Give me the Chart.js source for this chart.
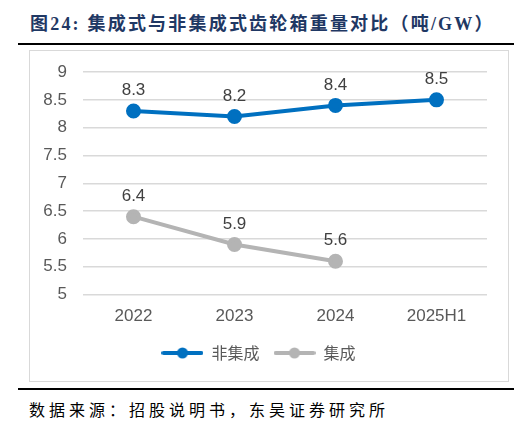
<!DOCTYPE html>
<html>
<head>
<meta charset="utf-8">
<script src="https://cdn.jsdelivr.net/npm/chart.js@4"></script>
<style>
  body { margin:0; width:520px; height:430px; background:#fff; position:relative; overflow:hidden; }
  #title { position:absolute; left:30px; top:9px; font:bold 18px "Liberation Serif","Noto Sans CJK SC",serif; color:#1f3864; letter-spacing:2.2px; white-space:nowrap; }
  .rule { position:absolute; left:18px; width:496px; height:2px; background:#000; }
  #box { position:absolute; left:29px; top:50px; width:478px; height:330px; border:1px solid #d9d9d9; }
  #src { position:absolute; left:29px; top:397px; font:16px "Noto Sans CJK SC",serif; color:#000; letter-spacing:4px; white-space:nowrap; }
</style>
</head>
<body>
<div id="title">图24:&nbsp;集成式与非集成式齿轮箱重量对比（吨/GW）</div>
<div class="rule" style="top:43px"></div>
<div id="box"><canvas id="c" width="478" height="330"></canvas></div>
<div class="rule" style="top:388px"></div>
<div id="src">数据来源：招股说明书，东吴证券研究所</div>
<script>
const categories = ["2022", "2023", "2024", "2025H1"];
const nonIntegrated = [8.3, 8.2, 8.4, 8.5];
const integrated = [6.4, 5.9, 5.6, null];
const seriesNames = ["非集成", "集成"];
const yTicks = [5, 5.5, 6, 6.5, 7, 7.5, 8, 8.5, 9];

// legend swatch: line with dot in the middle
function swatch(color) {
  const cv = document.createElement("canvas");
  cv.width = 42; cv.height = 12;
  const g = cv.getContext("2d");
  g.strokeStyle = color; g.lineWidth = 4; g.lineCap = "round";
  g.beginPath(); g.moveTo(2, 6); g.lineTo(40, 6); g.stroke();
  g.fillStyle = color; g.beginPath(); g.arc(21, 6, 5.5, 0, Math.PI * 2); g.fill();
  return cv;
}

const valueLabels = {
  id: "valueLabels",
  afterDatasetsDraw(chart) {
    const ctx = chart.ctx;
    ctx.save();
    ctx.font = "17px 'Liberation Sans', Arial, sans-serif";
    ctx.fillStyle = "#404040";
    ctx.textAlign = "center";
    ctx.textBaseline = "bottom";
    chart.data.datasets.forEach((ds, i) => {
      chart.getDatasetMeta(i).data.forEach((pt, j) => {
        const v = ds.data[j];
        if (v == null) return;
        ctx.fillText(v.toFixed(1), pt.x, pt.y - 12);
      });
    });
    ctx.restore();
  }
};

new Chart(document.getElementById("c"), {
  type: "line",
  data: {
    labels: categories,
    datasets: [
      { label: seriesNames[0], data: nonIntegrated, borderColor: "#0070c0", backgroundColor: "#0070c0",
        borderWidth: 4, pointRadius: 5.5, pointHoverRadius: 5.5 },
      { label: seriesNames[1], data: integrated, borderColor: "#b4b4b4", backgroundColor: "#b4b4b4",
        borderWidth: 4, pointRadius: 5.5, pointHoverRadius: 5.5 },
    ],
  },
  options: {
    responsive: false, animation: false,
    layout: { padding: { top: 21, right: 21, left: 0, bottom: 10 } },
    elements: { point: { pointStyle: "circle" }, line: { tension: 0 } },
    plugins: {
      tooltip: { enabled: false },
      legend: {
        position: "bottom",
        labels: {
          usePointStyle: true, pointStyleWidth: 42, padding: 14,
          color: "#595959", font: { size: 16, family: "'Noto Sans CJK SC', sans-serif" },
          generateLabels(chart) {
            return chart.data.datasets.map((ds, i) => ({
              text: ds.label, pointStyle: swatch(ds.borderColor), fontColor: "#595959",
              strokeStyle: ds.borderColor, fillStyle: ds.borderColor, lineWidth: 0, datasetIndex: i, hidden: false,
            }));
          },
        },
      },
    },
    scales: {
      x: {
        offset: true,
        grid: { display: false }, border: { display: false },
        ticks: { color: "#595959", font: { size: 17, family: "'Liberation Sans', Arial, sans-serif" }, padding: 4 },
      },
      y: {
        min: 5, max: 9,
        afterBuildTicks: (ax) => { ax.ticks = yTicks.map((v) => ({ value: v })); },
        afterFit: (ax) => { ax.width = 53; ax.paddingTop = 0; ax.paddingBottom = 0; },
        grid: { color: "#d9d9d9", lineWidth: 1.5, drawTicks: false }, border: { display: false },
        ticks: { color: "#595959", font: { size: 17, family: "'Liberation Sans', Arial, sans-serif" }, padding: 16,
          callback: (v) => String(v) },
      },
    },
  },
  plugins: [valueLabels],
});
</script>
</body>
</html>
